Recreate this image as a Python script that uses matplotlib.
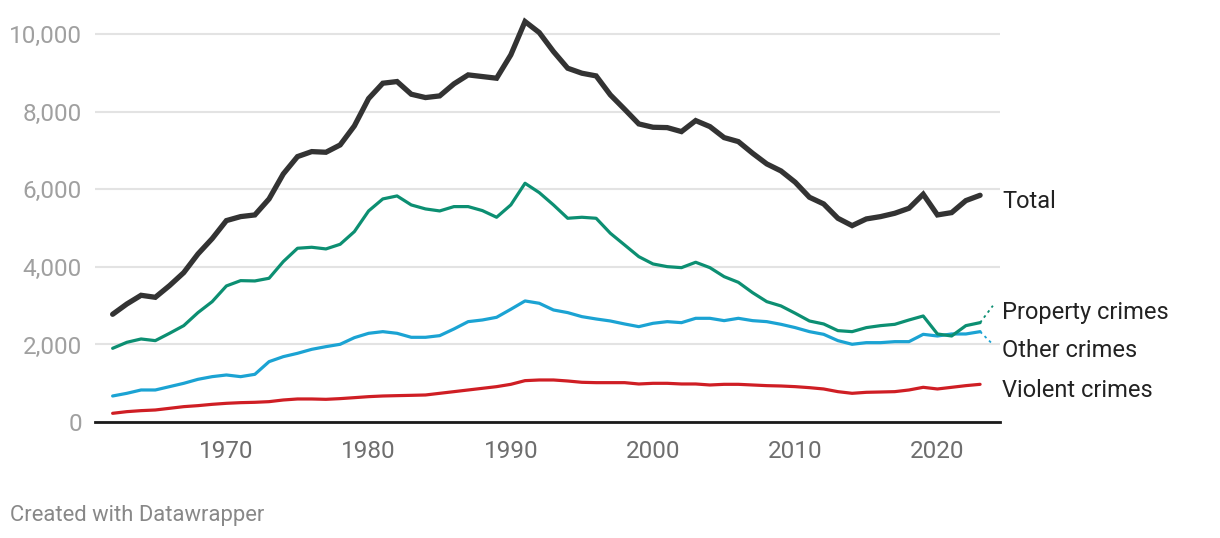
import matplotlib
matplotlib.use("Agg")
import matplotlib.pyplot as plt

plt.rcParams['font.family'] = ['Roboto', 'DejaVu Sans']

years = list(range(1962, 2024))

total = [2779, 3045, 3269, 3217, 3518, 3854, 4335, 4731, 5196, 5299,
         5342, 5755, 6400, 6847, 6976, 6959, 7148, 7639, 8344, 8740,
         8783, 8456, 8370, 8413, 8723, 8955, 8912, 8869, 9471, 10331,
         10047, 9557, 9127, 8998, 8929, 8439, 8069, 7690, 7604, 7595,
         7492, 7776, 7621, 7337, 7234, 6934, 6658, 6477, 6185, 5798,
         5626, 5256, 5066, 5239, 5299, 5385, 5514, 5876, 5342, 5402,
         5712, 5849]

property_crimes = [1901, 2056, 2142, 2099, 2288, 2486, 2822, 3105, 3510, 3647,
                   3639, 3708, 4138, 4482, 4508, 4465, 4585, 4912, 5445, 5755,
                   5832, 5600, 5497, 5445, 5557, 5557, 5454, 5282, 5600, 6159,
                   5918, 5600, 5256, 5282, 5256, 4869, 4568, 4266, 4077, 4008,
                   3982, 4121, 3982, 3750, 3604, 3337, 3105, 2994, 2805, 2606,
                   2529, 2357, 2331, 2435, 2486, 2520, 2632, 2735, 2271, 2219,
                   2486, 2563]

other_crimes = [671, 740, 826, 826, 912, 998, 1101, 1170, 1213, 1170,
                1230, 1557, 1686, 1772, 1875, 1944, 2005, 2176, 2288, 2331,
                2288, 2185, 2185, 2228, 2400, 2589, 2632, 2701, 2908, 3123,
                3063, 2890, 2822, 2718, 2658, 2606, 2529, 2460, 2546, 2589,
                2563, 2675, 2675, 2615, 2675, 2615, 2589, 2520, 2435, 2331,
                2262, 2099, 2005, 2047, 2047, 2073, 2073, 2262, 2219, 2271,
                2271, 2331]

violent_crimes = [224, 267, 293, 310, 353, 396, 422, 456, 482, 499,
                  508, 525, 568, 594, 594, 585, 603, 628, 654, 671,
                  680, 688, 697, 740, 783, 826, 869, 912, 972, 1067,
                  1084, 1084, 1058, 1024, 1015, 1015, 1015, 981, 998, 998,
                  981, 981, 955, 972, 972, 955, 938, 929, 912, 886,
                  852, 783, 740, 766, 774, 783, 826, 895, 852, 895,
                  938, 972]

series_labels = ["Total", "Property crimes", "Other crimes", "Violent crimes"]
y_ticks = [0, 2000, 4000, 6000, 8000, 10000]
x_ticks = [1970, 1980, 1990, 2000, 2010, 2020]

fig = plt.figure(figsize=(12.2, 5.38), dpi=100)
ax = fig.add_axes([95/1220, 1 - 422/538, (1000-95)/1220, (422-15)/538])

c_total = "#333333"
c_prop = "#0c8f72"
c_other = "#1ba3d3"
c_viol = "#cf1e24"

ax.plot(years, violent_crimes, color=c_viol, lw=2.3, solid_capstyle='round', zorder=3)
ax.plot(years, other_crimes, color=c_other, lw=2.3, solid_capstyle='round', zorder=3)
ax.plot(years, property_crimes, color=c_prop, lw=2.3, solid_capstyle='round', zorder=3)
ax.plot(years, total, color=c_total, lw=3.8, solid_capstyle='round',
        solid_joinstyle='miter', zorder=4)

ax.set_xlim(1960.76, 2024.4)
ax.set_ylim(0, 10500)
ax.set_yticks(y_ticks)
ax.set_yticklabels([f"{v:,}" for v in y_ticks])
ax.set_xticks(x_ticks)
ax.set_xticklabels([str(v) for v in x_ticks])
ax.tick_params(axis='y', length=0, pad=9.5, labelsize=17.5, labelcolor="#a0a0a0")
ax.tick_params(axis='x', length=0, pad=13, labelsize=17.5, labelcolor="#6e6e6e")
for lab in ax.get_yticklabels():
    lab.set_verticalalignment('center_baseline')

ax.grid(axis='y', color="#e3e3e3", lw=1.5, zorder=0)
for s in ['top', 'right', 'left']:
    ax.spines[s].set_visible(False)
ax.spines['bottom'].set_color("#1a1a1a")
ax.spines['bottom'].set_linewidth(2)
ax.spines['bottom'].set_zorder(5)

# direct labels
xl = 2024.55
lab_y = [5690, 2820, 1840, 820]
for name, yv in zip(series_labels, lab_y):
    ax.text(xl, yv, name, fontsize=17, color="#222222", va='center', ha='left',
            clip_on=False)

# dotted connectors
ax.plot([years[-1], 2023.9], [property_crimes[-1], 3000], color=c_prop, lw=1.3,
        ls=(0, (1.5, 2)), clip_on=False, zorder=3)
ax.plot([years[-1], 2023.9], [other_crimes[-1], 2000], color=c_other, lw=1.3,
        ls=(0, (1.5, 2)), clip_on=False, zorder=3)

fig.text(10/1220, 1 - 515/538, "Created with Datawrapper", fontsize=15.8,
         color="#888888", va='center', ha='left')

fig.savefig("out.png", dpi=100)
